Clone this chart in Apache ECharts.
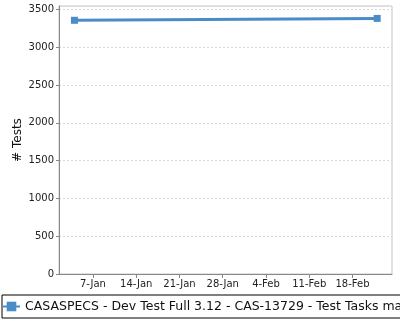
<!DOCTYPE html>
<html>
<head>
<meta charset="utf-8">
<script src="https://cdn.jsdelivr.net/npm/echarts@6/dist/echarts.min.js"></script>
<style>html,body{margin:0;padding:0;background:#fff}#c{width:400px;height:320px}</style>
</head>
<body>
<div id="c"></div>
<script>
var seriesName = 'CASASPECS - Dev Test Full 3.12 - CAS-13729 - Test Tasks ma';
var dates = ['2013-01-04', '2013-02-22'];
var tests = [3355, 3380];
var tickDates = ['2013-01-07', '2013-01-14', '2013-01-21', '2013-01-28', '2013-02-04', '2013-02-11', '2013-02-18'];
var tickLabels = ['7-Jan', '14-Jan', '21-Jan', '28-Jan', '4-Feb', '11-Feb', '18-Feb'];
var yTicks = [0, 500, 1000, 1500, 2000, 2500, 3000, 3500];

var DAY = 86400000;
function ts(s) { return Date.parse(s + 'T00:00:00Z'); }
var tickTs = tickDates.map(ts);
var xMin = ts(dates[0]) - 2.5 * DAY;
var xMax = ts(dates[dates.length - 1]) + 2.4 * DAY;

var chart = echarts.init(document.getElementById('c'), null, {renderer: 'canvas'});
var font = 'DejaVu Sans';
chart.setOption({
  animation: false,
  textStyle: {fontFamily: font},
  grid: {left: 59, right: 8, top: 6, bottom: 46, show: true, borderColor: '#c4c4c4', borderWidth: 1},
  legend: {
    left: 2, top: 295,
    padding: [5, 80, 5, 0],
    borderColor: '#000', borderWidth: 1,
    itemWidth: 17, itemHeight: 12,
    textStyle: {fontFamily: font, fontSize: 12.5, color: '#111'},
    data: [seriesName]
  },
  xAxis: {
    type: 'value',
    min: xMin, max: xMax,
    axisLine: {show: true, lineStyle: {color: '#888', width: 1}},
    axisTick: {show: true, length: 4, lineStyle: {color: '#888'}, customValues: tickTs},
    axisLabel: {
      customValues: tickTs,
      fontFamily: font, fontSize: 10, color: '#222', margin: 5,
      formatter: function (v) {
        var i = tickTs.indexOf(v);
        return i >= 0 ? tickLabels[i] : '';
      }
    },
    splitLine: {show: false}
  },
  yAxis: {
    type: 'value',
    min: yTicks[0], max: 3544, interval: 500,
    name: '# Tests', nameLocation: 'middle', nameGap: 35, nameMoveOverlap: false,
    nameTextStyle: {fontFamily: font, fontSize: 12, color: '#111'},
    axisLine: {show: true, lineStyle: {color: '#888', width: 1}},
    axisTick: {show: true, length: 3, lineStyle: {color: '#888'}},
    axisLabel: {fontFamily: font, fontSize: 10, color: '#222', margin: 5, showMaxLabel: false,
      formatter: function (v) { return yTicks.indexOf(v) >= 0 ? String(v) : ''; }},
    splitLine: {show: true, lineStyle: {color: '#d8d8d8', type: [2, 2], width: 1}}
  },
  series: [{
    name: seriesName,
    type: 'line',
    data: dates.map(function (d, i) { return [ts(d), tests[i]]; }),
    symbol: 'rect', symbolSize: 7,
    lineStyle: {color: '#4a8cc8', width: 3},
    itemStyle: {color: '#4a8cc8'}
  }]
});
</script>
</body>
</html>
